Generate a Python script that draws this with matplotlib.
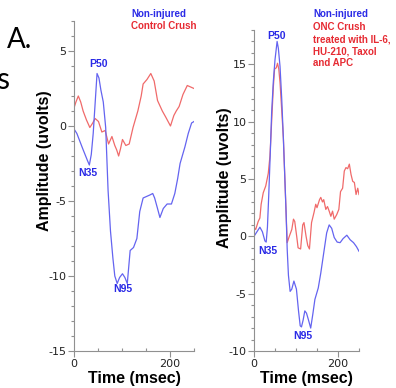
import numpy as np
import matplotlib
matplotlib.use('Agg')
import matplotlib.pyplot as plt
from matplotlib.ticker import MultipleLocator, FixedLocator

plt.rcParams['axes.unicode_minus'] = False

#
# Left panel: Non-injured vs Control Crush
#
tl_blue = [0, 6, 12, 18, 23, 28, 32, 36, 40, 44, 48, 52, 56, 61, 66, 71, 76, 81, 85, 90,
           95, 101, 106, 111, 117, 124, 131, 137, 144, 151, 158, 164, 168, 174, 179, 186,
           194, 203, 210, 216, 221, 231, 238, 245, 250]
vl_blue = [-0.2, -0.5, -1.0, -1.5, -1.9, -2.3, -2.6, -1.9, -0.5, 1.5, 3.5, 3.2, 2.4, 1.6,
           -0.1, -4.3, -7.0, -8.8, -10.0, -10.5, -10.1, -9.85, -10.1, -10.5, -8.3, -8.1,
           -7.5, -5.7, -4.8, -4.7, -4.6, -4.5, -4.8, -5.5, -6.1, -5.5, -5.2, -5.2, -4.5,
           -3.5, -2.5, -1.4, -0.5, 0.2, 0.3]
tl_red = [0, 4, 9, 14, 19, 26, 33, 39, 44, 51, 58, 65, 72, 79, 85, 89, 93, 97, 101, 108,
          115, 123, 133, 140, 144, 152, 160, 167, 174, 184, 191, 201, 208, 213, 219, 227,
          236, 243, 250]
vl_red = [1.2, 1.6, 2.0, 1.6, 1.0, 0.4, -0.1, 0.2, 0.5, 0.3, -0.4, -0.3, -1.2, -0.7, -1.3,
          -1.6, -2.0, -1.5, -0.9, -1.3, -1.2, -0.1, 1.0, 2.0, 2.8, 3.1, 3.5, 3.0, 1.7, 1.0,
          0.6, 0.0, 0.7, 1.0, 1.3, 2.1, 2.7, 2.6, 2.5]
#
# Right panel: Non-injured vs treated ONC Crush
#
tr_blue = [0, 7, 14, 20, 26, 29, 32, 35, 39, 42, 46, 50, 55, 58, 62, 66, 70, 76, 79, 82,
           86, 90, 95, 101, 106, 110, 113, 117, 121, 125, 129, 135, 140, 145, 153, 159,
           165, 173, 179, 185, 191, 198, 205, 212, 221, 229, 237, 244, 250]
vr_blue = [0.0, 0.4, 0.8, 0.4, -0.4, -0.5, 0.8, 3.5, 7.5, 10.8, 13.5, 15.4, 17.0, 16.4,
           14.8, 12.0, 8.5, 2.5, -1.1, -3.4, -4.8, -4.6, -3.9, -4.6, -6.5, -7.8, -7.9,
           -7.3, -6.5, -6.7, -7.2, -8.0, -6.8, -5.5, -4.5, -3.2, -1.7, 0.3, 1.0, 0.7,
           -0.1, -0.5, -0.55, -0.2, 0.1, -0.3, -0.55, -0.9, -1.3]
tr_red = [0, 4, 10, 14, 17, 22, 28, 34, 38, 42, 46, 49, 53, 56, 59, 62, 66, 70, 73, 76,
          79, 84, 90, 94, 97, 102, 105, 111, 116, 119, 124, 128, 132, 137, 143, 147, 150,
          156, 159, 163, 166, 171, 175, 179, 183, 187, 191, 197, 202, 206, 211, 215, 219,
          223, 227, 231, 235, 239, 243, 247, 250]
vr_red = [0.8, 0.6, 1.3, 1.6, 2.8, 3.8, 4.4, 5.5, 7.0, 10.0, 13.0, 14.6, 14.7, 15.1, 14.6,
          13.4, 11.0, 8.5, 5.5, 2.5, -0.55, 0.0, 0.6, 1.5, 1.3, -0.1, -1.0, -1.1, 1.0, 1.2,
          0.0, -0.8, -1.1, 1.2, 2.1, 2.8, 2.5, 3.2, 3.4, 3.0, 3.2, 2.35, 2.6, 2.2, 1.75,
          2.2, 1.5, 1.9, 2.35, 3.9, 4.2, 5.7, 6.0, 5.9, 6.3, 5.4, 4.8, 4.7, 3.65, 4.2, 3.65]

blue = '#6464f0'
red = '#f06a6a'
blue_txt = '#2a2ae6'
red_txt = '#e62a32'
W, H = 396, 388

fig = plt.figure(figsize=(W/100, H/100), dpi=100)

def px(x, y):
    return x/W, 1 - y/H

def style(ax, ylim, major_y):
    ax.set_xlim(0, 250)
    ax.set_ylim(*ylim)
    for s in ['top', 'right']:
        ax.spines[s].set_visible(False)
    for s in ['left', 'bottom']:
        ax.spines[s].set_color('#909090')
        ax.spines[s].set_linewidth(0.8)
    ax.xaxis.set_major_locator(FixedLocator([0, 200]))
    ax.xaxis.set_minor_locator(FixedLocator([50, 100, 150, 250]))
    ax.yaxis.set_major_locator(MultipleLocator(major_y))
    ax.yaxis.set_minor_locator(MultipleLocator(1))
    ax.tick_params(which='major', length=4, width=0.8, color='#909090', labelsize=8,
                   labelcolor='#222222', pad=1.5)
    ax.tick_params(axis='y', which='minor', length=2.5, width=0.8, color='#909090')
    ax.tick_params(axis='x', which='minor', direction='in', length=2.5, width=0.8,
                   color='#909090')
    for lab in ax.get_xticklabels() + ax.get_yticklabels():
        lab.set_family('DejaVu Sans')

# left axes
axl = fig.add_axes([74/W, 37/H, 120/W, 330/H])
axl.plot(tl_red, vl_red, color=red, lw=0.9)
axl.plot(tl_blue, vl_blue, color=blue, lw=0.9)
style(axl, (-15, 7), 5)
axl.set_yticks([5, 0, -5, -10, -15])
axl.set_ylim(-15, 7)

# right axes
axr = fig.add_axes([254/W, 37/H, 105/W, 321/H])
axr.plot(tr_red, vr_red, color=red, lw=0.9)
axr.plot(tr_blue, vr_blue, color=blue, lw=0.9)
style(axr, (-10, 18), 5)
axr.set_yticks([15, 10, 5, 0, -5, -10])
axr.set_ylim(-10, 18)

lab = dict(family='Liberation Sans', weight='bold', fontsize=11.5, color='black')
fig.text(*px(134, 378), 'Time (msec)', ha='center', va='center', **lab)
fig.text(*px(306, 378), 'Time (msec)', ha='center', va='center', **lab)
fig.text(*px(45, 161), 'Amplitude (uvolts)', ha='center', va='center', rotation=90, **lab)
fig.text(*px(224, 178), 'Amplitude (uvolts)', ha='center', va='center', rotation=90, **lab)

# peak labels
pk = dict(family='Liberation Sans', weight='bold', fontsize=7.5, color=blue_txt,
          ha='center', va='center')
fig.text(*px(98, 64), 'P50', **pk)
fig.text(*px(88, 173), 'N35', **pk)
fig.text(*px(123, 289), 'N95', **pk)
fig.text(*px(277, 36), 'P50', **pk)
fig.text(*px(268, 251), 'N35', **pk)
fig.text(*px(303, 336), 'N95', **pk)

# legends as text
lg = dict(family='Liberation Sans', weight='bold', fontsize=7, ha='left', va='center')
fig.text(*px(131, 14), 'Non-injured', color=blue_txt, **lg)
fig.text(*px(131, 26), 'Control Crush', color=red_txt, **lg)
fig.text(*px(313, 14), 'Non-injured', color=blue_txt, **lg)
for i, s in enumerate(['ONC Crush', 'treated with IL-6,', 'HU-210, Taxol', 'and APC']):
    fig.text(*px(313, 27 + 12*i), s, color=red_txt, **lg)

# slide text
fig.text(*px(7, 40), 'A.', family='Lato', fontsize=20, ha='left', va='center')
fig.text(*px(-4, 80), 's', family='Lato', fontsize=22, ha='left', va='center')

fig.savefig('out.png', dpi=100)
